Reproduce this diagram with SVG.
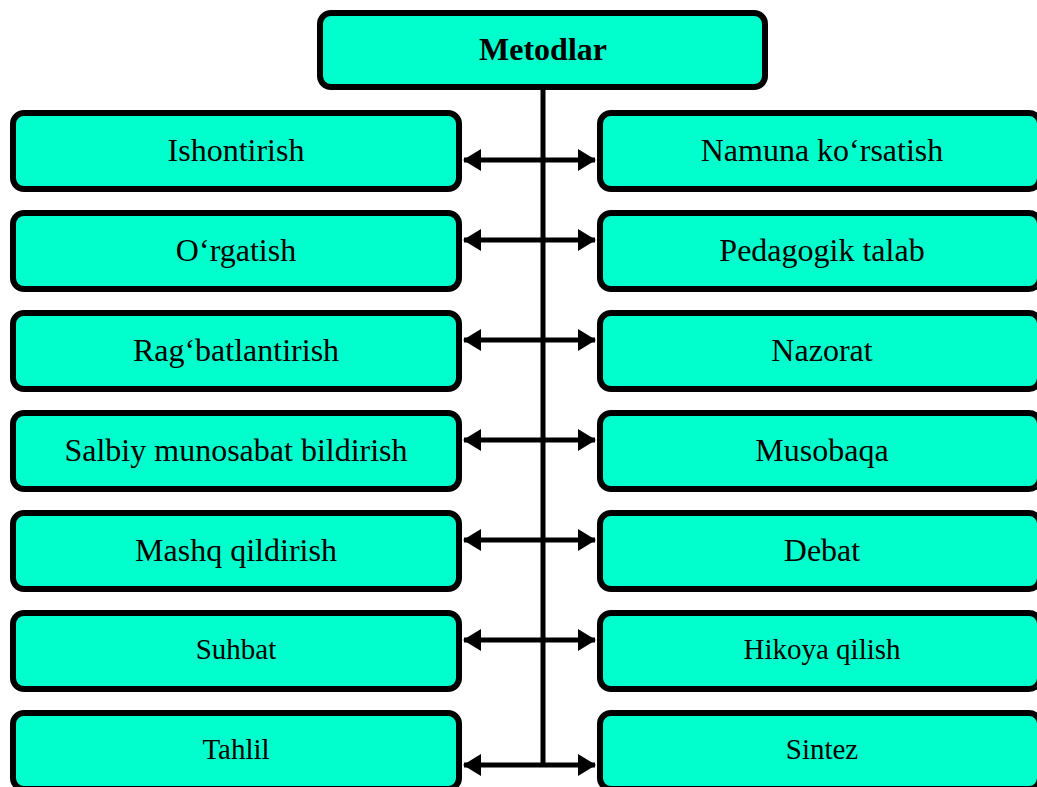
<svg xmlns="http://www.w3.org/2000/svg" width="1037" height="787" viewBox="0 0 1037 787">
<style>
.box{fill:#00FFCC;stroke:#000;stroke-width:6}
.t{font-family:"Liberation Serif","Times New Roman",serif;font-size:32px;fill:#000;text-anchor:middle}
.s{font-size:29px}
.b{font-weight:bold}
.c{stroke:#000;stroke-width:5;fill:none}
</style>
<defs>
<marker id="ah" markerUnits="userSpaceOnUse" markerWidth="18" markerHeight="22" refX="17" refY="11" orient="auto-start-reverse" viewBox="0 0 18 22">
<path d="M0,0 L18,11 L0,22 Z" fill="#000"/>
</marker>
</defs>
<rect width="1037" height="787" fill="#fff"/>
<g id="connectors">
<line class="c" x1="543" y1="88" x2="543" y2="763"/>
<line class="c" x1="464" y1="160" x2="595" y2="160" marker-start="url(#ah)" marker-end="url(#ah)"/>
<line class="c" x1="464" y1="240" x2="595" y2="240" marker-start="url(#ah)" marker-end="url(#ah)"/>
<line class="c" x1="464" y1="340" x2="595" y2="340" marker-start="url(#ah)" marker-end="url(#ah)"/>
<line class="c" x1="464" y1="440" x2="595" y2="440" marker-start="url(#ah)" marker-end="url(#ah)"/>
<line class="c" x1="464" y1="540" x2="595" y2="540" marker-start="url(#ah)" marker-end="url(#ah)"/>
<line class="c" x1="464" y1="640" x2="595" y2="640" marker-start="url(#ah)" marker-end="url(#ah)"/>
<line class="c" x1="464" y1="765" x2="595" y2="765" marker-start="url(#ah)" marker-end="url(#ah)"/>
</g>
<g id="n-metodlar"><rect class="box" x="320" y="13" width="445" height="74" rx="11"/><text class="t b" x="543" y="60">Metodlar</text></g>
<g id="n-ishontirish"><rect class="box" x="13" y="113" width="446" height="76" rx="11"/><text class="t" x="236" y="161">Ishontirish</text></g>
<g id="n-namuna"><rect class="box" x="600" y="113" width="440" height="76" rx="11"/><text class="t" x="822" y="161">Namuna ko‘rsatish</text></g>
<g id="n-orgatish"><rect class="box" x="13" y="213" width="446" height="76" rx="11"/><text class="t" x="236" y="261">O‘rgatish</text></g>
<g id="n-pedagogik"><rect class="box" x="600" y="213" width="440" height="76" rx="11"/><text class="t" x="822" y="261">Pedagogik talab</text></g>
<g id="n-ragbat"><rect class="box" x="13" y="313" width="446" height="76" rx="11"/><text class="t" x="236" y="361">Rag‘batlantirish</text></g>
<g id="n-nazorat"><rect class="box" x="600" y="313" width="440" height="76" rx="11"/><text class="t" x="822" y="361">Nazorat</text></g>
<g id="n-salbiy"><rect class="box" x="13" y="413" width="446" height="76" rx="11"/><text class="t" x="236" y="461">Salbiy munosabat bildirish</text></g>
<g id="n-musobaqa"><rect class="box" x="600" y="413" width="440" height="76" rx="11"/><text class="t" x="822" y="461">Musobaqa</text></g>
<g id="n-mashq"><rect class="box" x="13" y="513" width="446" height="76" rx="11"/><text class="t" x="236" y="561">Mashq qildirish</text></g>
<g id="n-debat"><rect class="box" x="600" y="513" width="440" height="76" rx="11"/><text class="t" x="822" y="561">Debat</text></g>
<g id="n-suhbat"><rect class="box" x="13" y="613" width="446" height="76" rx="11"/><text class="t s" x="236" y="659">Suhbat</text></g>
<g id="n-hikoya"><rect class="box" x="600" y="613" width="440" height="76" rx="11"/><text class="t s" x="822" y="659">Hikoya qilish</text></g>
<g id="n-tahlil"><rect class="box" x="13" y="713" width="446" height="76" rx="11"/><text class="t s" x="236" y="759">Tahlil</text></g>
<g id="n-sintez"><rect class="box" x="600" y="713" width="440" height="76" rx="11"/><text class="t s" x="822" y="759">Sintez</text></g>
</svg>
